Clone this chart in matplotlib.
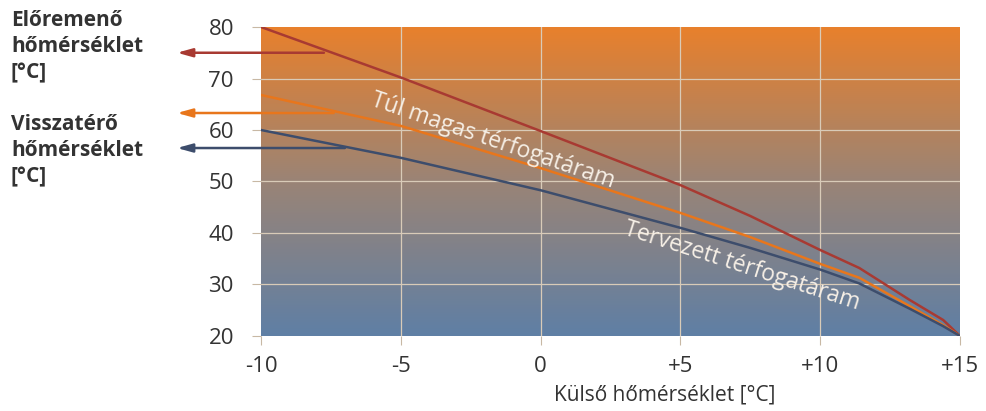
import numpy as np
import matplotlib.pyplot as plt
from matplotlib.colors import LinearSegmentedColormap

plt.rcParams['font.family'] = ['Open Sans', 'DejaVu Sans']

# outside temperature [°C]
kulso = [-10, -5, 0, 5, 7.5, 10, 11.4, 13.2, 14.4, 15]
# supply temperature (red)
eloremeno = [80, 70.2, 59.8, 49.3, 43.3, 36.7, 33.2, 27, 23.1, 20]
# too high flow return temperature (orange)
tul_magas = [66.8, 60.8, 52.6, 43.9, 39.2, 34, 31.3, 25.8, 22.1, 20]
# design return temperature (blue)
tervezett = [60, 54.6, 48.3, 41, 37.1, 32.9, 30.2, 25.3, 21.9, 20]

xticks = [-10, -5, 0, 5, 10, 15]
xticklabels = ['-10', '-5', '0', '+5', '+10', '+15']
yticks = [20, 30, 40, 50, 60, 70, 80]

# arrows at left: (y value, x start on the curve)
arrow_red = (75, -7.75)
arrow_orange = (63.3, -7.4)
arrow_blue = (56.5, -7.0)

RED = '#a83a32'
ORANGE = '#e8761c'
BLUE = '#3d4d6c'

fig = plt.figure(figsize=(9.87, 4.11), dpi=100)
ax = fig.add_axes([261 / 987, 0.1825, 699 / 987, 0.7518])

cmap = LinearSegmentedColormap.from_list('bg', ['#5f7fa5', '#9a8476', '#e8802c'])
grad = np.linspace(0, 1, 256).reshape(-1, 1)
ax.imshow(grad, cmap=cmap, aspect='auto', origin='lower',
          extent=[-10, 15, 20, 80], zorder=0)

ax.set_xlim(-10, 15)
ax.set_ylim(20, 80)

for x in xticks[1:-1]:
    ax.axvline(x, color='#d9cbb8', lw=0.9, zorder=1)
for y in yticks[1:-1]:
    ax.axhline(y, color='#d9cbb8', lw=0.9, zorder=1)

ax.plot(kulso, eloremeno, color=RED, lw=1.8, zorder=3)
ax.plot(kulso, tul_magas, color=ORANGE, lw=1.8, zorder=3)
ax.plot(kulso, tervezett, color=BLUE, lw=1.8, zorder=3)

for s in ax.spines.values():
    s.set_visible(False)
ax.set_xticks(xticks)
ax.set_xticklabels(xticklabels)
ax.set_yticks(yticks)
ax.tick_params(axis='both', length=6.5, color='#c8b8a4', labelsize=16,
               labelcolor='#333333')
ax.tick_params(axis='y', pad=13)
ax.tick_params(axis='x', pad=8)

ax.set_xlabel('Külső hőmérséklet [°C]', fontsize=15, color='#333333',
              labelpad=5, x=0.577)

ax.text(-1.7, 57.9, 'Túl magas térfogatáram', rotation=-18.8, fontsize=16.5,
        color='#f6efe6', ha='center', va='center', rotation_mode='anchor', zorder=4)
ax.text(7.2, 33.6, 'Tervezett térfogatáram', rotation=-17.8, fontsize=16.5,
        color='#f6efe6', ha='center', va='center', rotation_mode='anchor', zorder=4)

for (yv, xv), col in [(arrow_red, RED), (arrow_orange, ORANGE), (arrow_blue, BLUE)]:
    ax.annotate('', xy=(177 / 987, yv), xycoords=('figure fraction', 'data'),
                xytext=(xv, yv), textcoords='data',
                arrowprops=dict(arrowstyle='-|>,head_length=0.9,head_width=0.25',
                                color=col, lw=1.8, shrinkA=0, shrinkB=0),
                annotation_clip=False, zorder=5)

fig.text(11 / 987, 1 - 10 / 411, 'Előremenő\nhőmérséklet\n[°C]', fontsize=15,
         fontweight='bold', color='#333333', va='top', ha='left', linespacing=1.33)
fig.text(11 / 987, 1 - 114 / 411, 'Visszatérő\nhőmérséklet\n[°C]', fontsize=15,
         fontweight='bold', color='#333333', va='top', ha='left', linespacing=1.33)

fig.savefig('out.png', dpi=100)
